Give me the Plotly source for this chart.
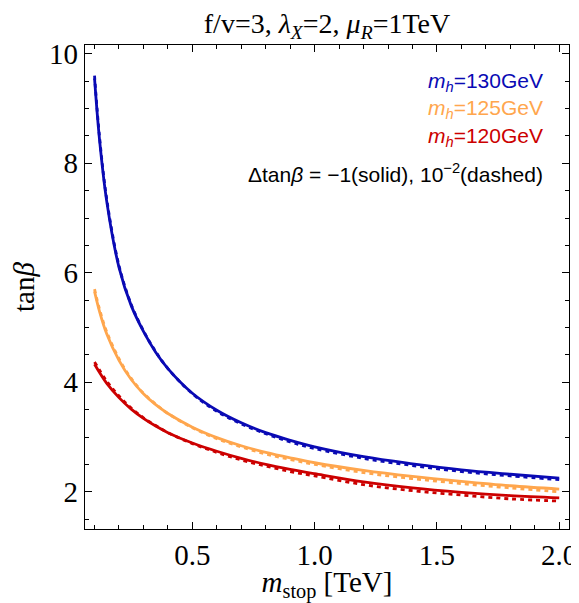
import plotly.graph_objects as go

# ---- data ----
x_blue = [0.10, 0.12, 0.15, 0.20, 0.25, 0.30, 0.35, 0.40, 0.50, 0.60, 0.70, 0.80, 0.90, 1.00, 1.20, 1.40, 1.60, 1.80, 2.00]
y_blue_solid = [9.55, 8.45, 7.30, 6.10, 5.40, 4.93, 4.55, 4.25, 3.80, 3.49, 3.26, 3.08, 2.94, 2.82, 2.64, 2.51, 2.40, 2.32, 2.25]
y_blue_dash = [9.60, 8.50, 7.34, 6.13, 5.42, 4.94, 4.56, 4.25, 3.79, 3.47, 3.24, 3.06, 2.91, 2.79, 2.61, 2.48, 2.37, 2.29, 2.22]

x_orange = [0.10, 0.12, 0.15, 0.20, 0.25, 0.30, 0.35, 0.40, 0.50, 0.60, 0.70, 0.80, 0.90, 1.00, 1.20, 1.40, 1.60, 1.80, 2.00]
y_orange_solid = [5.66, 5.30, 4.88, 4.40, 4.05, 3.79, 3.59, 3.43, 3.18, 2.99, 2.84, 2.72, 2.62, 2.53, 2.39, 2.28, 2.19, 2.11, 2.05]
y_orange_dash = [5.70, 5.34, 4.92, 4.43, 4.07, 3.80, 3.60, 3.43, 3.17, 2.97, 2.82, 2.69, 2.59, 2.50, 2.35, 2.24, 2.15, 2.07, 2.00]

x_red = [0.10, 0.15, 0.20, 0.25, 0.30, 0.35, 0.40, 0.50, 0.60, 0.70, 0.80, 0.90, 1.00, 1.20, 1.40, 1.60, 1.80, 2.00]
y_red_solid = [4.33, 3.98, 3.72, 3.51, 3.34, 3.20, 3.08, 2.89, 2.74, 2.61, 2.50, 2.41, 2.33, 2.18, 2.07, 1.99, 1.93, 1.89]
y_red_dash = [4.37, 4.02, 3.75, 3.53, 3.35, 3.21, 3.08, 2.88, 2.72, 2.58, 2.47, 2.37, 2.29, 2.13, 2.02, 1.94, 1.87, 1.83]

x_ticks = [0.5, 1.0, 1.5, 2.0]
x_ticklabels = ["0.5", "1.0", "1.5", "2.0"]
y_ticks = [2, 4, 6, 8, 10]
y_ticklabels = ["2", "4", "6", "8", "10"]

BLUE = "#0a0ab4"
ORANGE = "#ffa64d"
RED = "#cc0000"

fig = go.Figure()
for xs, ys, yd, c in [(x_red, y_red_solid, y_red_dash, RED),
                      (x_orange, y_orange_solid, y_orange_dash, ORANGE),
                      (x_blue, y_blue_solid, y_blue_dash, BLUE)]:
    fig.add_trace(go.Scatter(x=xs, y=ys, mode="lines", line=dict(color=c, width=2.8, shape="spline"),
                             showlegend=False, hoverinfo="skip"))
    fig.add_trace(go.Scatter(x=xs, y=yd, mode="lines", line=dict(color=c, width=2.8, dash="4px,4px", shape="spline"),
                             showlegend=False, hoverinfo="skip"))

serif = "Liberation Serif"
sans = "Liberation Sans"

axis_common = dict(showline=True, linecolor="black", linewidth=1.2, mirror="ticks",
                   ticks="inside", ticklen=7, tickwidth=1.1, tickcolor="black",
                   showgrid=False, zeroline=False, automargin=False,
                   tickfont=dict(family=serif, size=29, color="black"))

fig.update_xaxes(range=[0.061, 2.04], tickvals=x_ticks, ticktext=x_ticklabels,
                 minor=dict(dtick=0.1, tick0=0, ticks="inside", ticklen=4, tickcolor="black"),
                 title=dict(text="<i>m</i><sub>stop</sub> [TeV]", font=dict(family=serif, size=29, color="black"),
                            standoff=0),
                 **axis_common)
fig.update_yaxes(range=[1.32, 10.16], tickvals=y_ticks, ticktext=y_ticklabels,
                 minor=dict(dtick=0.5, tick0=0, ticks="inside", ticklen=4, tickcolor="black"),
                 title=dict(text="tan<i>β</i>", font=dict(family=serif, size=29, color="black"),
                            standoff=8),
                 **axis_common)

anns = [
    ("<i>m<sub>h</sub></i>=130GeV", BLUE, 0.924),
    ("<i>m<sub>h</sub></i>=125GeV", ORANGE, 0.868),
    ("<i>m<sub>h</sub></i>=120GeV", RED, 0.810),
    ("Δtan<i>β</i> = −1(solid), 10<sup>−2</sup>(dashed)", "black", 0.736),
]
for txt, col, yy in anns:
    fig.add_annotation(text=txt, xref="paper", yref="paper", x=0.950, y=yy,
                       xanchor="right", yanchor="middle", showarrow=False,
                       font=dict(family=sans, size=21, color=col))

W, H = 571, 595
fig.update_layout(
    width=W, height=H,
    margin=dict(l=77, r=10, t=37, b=74),
    paper_bgcolor="white", plot_bgcolor="white",
    title=dict(text="f/v=3, <i>λ<sub>X</sub></i>=2, <i>μ<sub>R</sub></i>=1TeV",
               font=dict(family=serif, size=28, color="black"),
               x=0.5, xref="paper", xanchor="center", y=1 - 15 / H, yanchor="middle"),
)

fig.write_html("out.html")
